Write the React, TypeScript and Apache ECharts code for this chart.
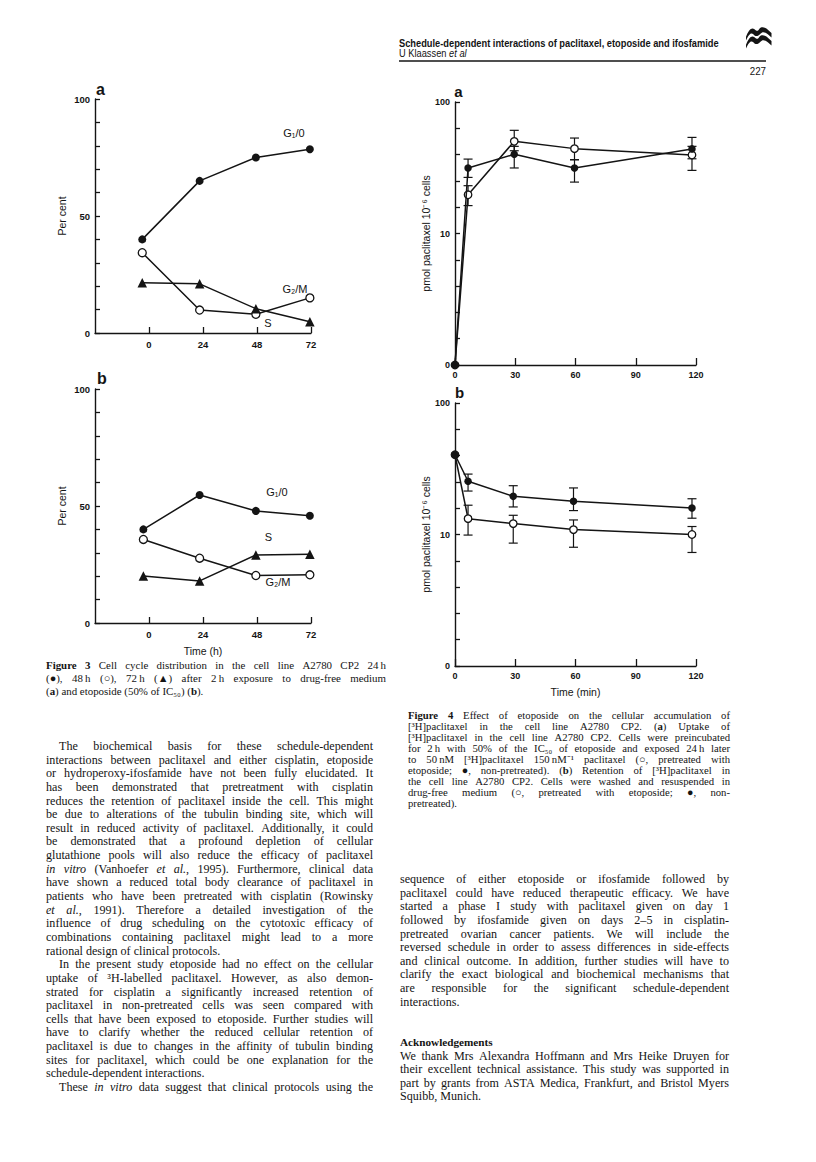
import React, { useEffect, useRef } from 'react';
import * as echarts from 'echarts';

// ---------------- DATA ----------------
// Figure 3 – cell cycle distribution (per cent)
const fig3Ticks = [0, 24, 48, 72];
const fig3aTimes = [-3, 22.5, 47.5, 71.5];
const fig3aG1 = [40, 65, 75, 78.5];
const fig3aS = [34.3, 9.8, 8, 15];
const fig3aG2M = [21.5, 21, 10.4, 4.8];
const fig3bTimes = [-2.5, 22.5, 47.5, 71.5];
const fig3bG1 = [40, 54.7, 47.9, 45.8];
const fig3bS = [35.7, 27.7, 20.3, 20.6];
const fig3bG2M = [20.1, 18, 29.1, 29.4];

// Figure 4 – pmol paclitaxel per 10^6 cells (log axis, bottom labelled "0")
const fig4Ticks = [0, 30, 60, 90, 120];
const fig4YLabels = [1, 10, 100];
const fig4aTimes = [0, 6.5, 29.5, 59.5, 118];
const fig4aNonPre = [0, 31.5, 40, 31.5, 44];
const fig4aNonPreLow = [null, 26.7, 31.5, 24.6, 37];
const fig4aNonPreHigh = [null, 36.8, 46, 36.4, 53.8];
const fig4aPre = [0, 19.7, 50.2, 44.2, 39.5];
const fig4aPreLow = [null, 16.3, 42.6, 36.4, 30.2];
const fig4aPreHigh = [null, 23.1, 60.9, 53.2, 46];

const fig4bTimes = [0, 6.5, 29, 59, 118];
const fig4bNonPre = [40.4, 25.4, 19.5, 17.9, 15.9];
const fig4bNonPreLow = [null, 21.4, 16.2, 15.2, 13.3];
const fig4bNonPreHigh = [null, 28.8, 23.5, 22.6, 18.7];
const fig4bPre = [40.4, 13.2, 12.1, 10.9, 10.0];
const fig4bPreLow = [null, 9.9, 8.6, 8.0, 7.3];
const fig4bPreHigh = [null, 16.7, 14, 12.9, 11.5];

// ---------------- TEXT ----------------
const headerTitle = 'Schedule-dependent interactions of paclitaxel, etoposide and ifosfamide';
const headerAuthor = 'U Klaassen';
const headerAuthorEtAl = 'et al';
const pageNumber = '227';

const fig3Caption = [
  '{b:Figure} {b:3}  Cell cycle distribution in the cell line A2780 CP2 24\u2009h',
  '(\u25CF), 48\u2009h (\u25CB), 72\u2009h (\u25B2) after 2\u2009h exposure to drug-free medium',
  '({b:a}) and etoposide (50% of IC\u2085\u2080) ({b:b}).|',
];

const fig4Caption = [
  '{b:Figure} {b:4}  Effect of etoposide on the cellular accumulation of',
  '[\u00B3H]paclitaxel in the cell line A2780 CP2. ({b:a}) Uptake of',
  '[\u00B3H]paclitaxel in the cell line A2780 CP2. Cells were preincubated',
  'for 2\u2009h with 50% of the IC\u2085\u2080 of etoposide and exposed 24\u2009h later',
  'to 50\u2009nM [\u00B3H]paclitaxel 150\u2009nM\u207B\u00B9 paclitaxel (\u25CB, pretreated with',
  'etoposide; \u25CF, non-pretreated). ({b:b}) Retention of [\u00B3H]paclitaxel in',
  'the cell line A2780 CP2. Cells were washed and resuspended in',
  'drug-free medium (\u25CB, pretreated with etoposide; \u25CF, non-',
  'pretreated).|',
];

const leftBody = [
  '>The biochemical basis for these schedule-dependent',
  'interactions between paclitaxel and either cisplatin, etoposide',
  'or hydroperoxy-ifosfamide have not been fully elucidated. It',
  'has been demonstrated that pretreatment with cisplatin',
  'reduces the retention of paclitaxel inside the cell. This might',
  'be due to alterations of the tubulin binding site, which will',
  'result in reduced activity of paclitaxel. Additionally, it could',
  'be demonstrated that a profound depletion of cellular',
  'glutathione pools will also reduce the efficacy of paclitaxel',
  '{i:in} {i:vitro} (Vanhoefer {i:et} {i:al.}, 1995). Furthermore, clinical data',
  'have shown a reduced total body clearance of paclitaxel in',
  'patients who have been pretreated with cisplatin (Rowinsky',
  '{i:et} {i:al.}, 1991). Therefore a detailed investigation of the',
  'influence of drug scheduling on the cytotoxic efficacy of',
  'combinations containing paclitaxel might lead to a more',
  'rational design of clinical protocols.|',
  '>In the present study etoposide had no effect on the cellular',
  'uptake of \u00B3H-labelled paclitaxel. However, as also demon-',
  'strated for cisplatin a significantly increased retention of',
  'paclitaxel in non-pretreated cells was seen compared with',
  'cells that have been exposed to etoposide. Further studies will',
  'have to clarify whether the reduced cellular retention of',
  'paclitaxel is due to changes in the affinity of tubulin binding',
  'sites for paclitaxel, which could be one explanation for the',
  'schedule-dependent interactions.|',
  '>These {i:in} {i:vitro} data suggest that clinical protocols using the',
];

const rightBody = [
  'sequence of either etoposide or ifosfamide followed by',
  'paclitaxel could have reduced therapeutic efficacy. We have',
  'started a phase I study with paclitaxel given on day 1',
  'followed by ifosfamide given on days 2\u20135 in cisplatin-',
  'pretreated ovarian cancer patients. We will include the',
  'reversed schedule in order to assess differences in side-effects',
  'and clinical outcome. In addition, further studies will have to',
  'clarify the exact biological and biochemical mechanisms that',
  'are responsible for the significant schedule-dependent',
  'interactions.|',
];

const ackTitle = 'Acknowledgements';
const ackBody = [
  'We thank Mrs Alexandra Hoffmann and Mrs Heike Druyen for',
  'their excellent technical assistance. This study was supported in',
  'part by grants from ASTA Medica, Frankfurt, and Bristol Myers',
  'Squibb, Munich.|',
];

// ---------------- HELPERS ----------------
const INK = '#141414';
const SANS = 'Liberation Sans';
const SERIF = 'Liberation Serif';
const LOG_FLOOR = 1; // the log axis bottom, labelled "0"
const LOG_TOP = 100;

const logoPath =
  'M0,13 C3,5 6,0 10,3 C13,6 14,6 16,2 C18,-1 23,0 26,4 L30,8 L30,14 L26,10 C22,6 19,6 17,9 C14,13 11,13 9,10 C6,7 4,8 0,18 Z';
echarts.graphic.registerShape('logo', echarts.graphic.extendPath(logoPath, {}) as any);

let measureCtx: CanvasRenderingContext2D | null = null;
function measure(text: string, size: number, family: string, bold: boolean, italic: boolean) {
  if (!measureCtx) measureCtx = document.createElement('canvas').getContext('2d');
  const ctx = measureCtx!;
  ctx.font = `${italic ? 'italic ' : ''}${bold ? 'bold ' : ''}${size}px "${family}"`;
  return ctx.measureText(text).width;
}

type Seg = { text: string; bold: boolean; italic: boolean };
function parseWord(w: string): Seg[] {
  const segs: Seg[] = [];
  const re = /\{([bi]):([^}]*)\}/g;
  let last = 0;
  let m: RegExpExecArray | null;
  while ((m = re.exec(w))) {
    if (m.index > last) segs.push({ text: w.slice(last, m.index), bold: false, italic: false });
    segs.push({ text: m[2], bold: m[1] === 'b', italic: m[1] === 'i' });
    last = m.index + m[0].length;
  }
  if (last < w.length) segs.push({ text: w.slice(last), bold: false, italic: false });
  return segs;
}

function textEl(x: number, y: number, text: string, size: number, family: string, bold = false, italic = false, extra: any = {}) {
  return {
    type: 'text',
    x,
    y,
    silent: true,
    ...extra,
    style: {
      text,
      fontSize: size,
      fontFamily: family,
      fontWeight: bold ? 'bold' : 'normal',
      fontStyle: italic ? 'italic' : 'normal',
      fill: INK,
      verticalAlign: 'middle',
      textVerticalAlign: 'middle',
      align: extra.align || 'left',
      textAlign: extra.align || 'left',
    },
  };
}

function layoutBlock(lines: string[], o: { x: number; y: number; width: number; lh: number; size: number; family: string; indent: number }) {
  const els: any[] = [];
  lines.forEach((raw, i) => {
    let s = raw;
    const indent = s.startsWith('>');
    if (indent) s = s.slice(1);
    const last = s.endsWith('|');
    if (last) s = s.slice(0, -1);
    const words = s.split(' ').filter((w) => w.length > 0).map(parseWord);
    const widths = words.map((segs) => segs.reduce((a, sg) => a + measure(sg.text, o.size, o.family, sg.bold, sg.italic), 0));
    const sum = widths.reduce((a, b) => a + b, 0);
    const space = measure(' ', o.size, o.family, false, false);
    const x0 = o.x + (indent ? o.indent : 0);
    const avail = o.width - (indent ? o.indent : 0);
    let gap = space;
    if (!last && words.length > 1) gap = Math.max(1.2, (avail - sum) / (words.length - 1));
    const y = o.y + i * o.lh;
    let x = x0;
    words.forEach((segs, wi) => {
      let sx = x;
      segs.forEach((sg) => {
        els.push(textEl(sx, y, sg.text, o.size, o.family, sg.bold, sg.italic));
        sx += measure(sg.text, o.size, o.family, sg.bold, sg.italic);
      });
      x += widths[wi] + gap;
    });
  });
  return els;
}

function zip(xs: number[], ys: number[]) {
  return xs.map((x, i) => [x, ys[i]]);
}
function logPoints(xs: number[], ys: number[]) {
  return xs.map((x, i) => [x, ys[i] <= 0 ? LOG_FLOOR : ys[i]]);
}
function errRows(xs: number[], lo: (number | null)[], hi: (number | null)[]) {
  const rows: number[][] = [];
  xs.forEach((x, i) => {
    if (lo[i] != null && hi[i] != null) rows.push([x, lo[i] as number, hi[i] as number]);
  });
  return rows;
}

const tickLabelStyle = { color: INK, fontFamily: SANS, fontWeight: 'bold' as const, fontSize: 9.5 };

function fig3XAxis(gridIndex: number, name?: string) {
  return {
    type: 'value', gridIndex, min: -24, max: 72, interval: 24,
    axisLine: { show: true, onZero: false, lineStyle: { color: INK, width: 1.4 } },
    axisTick: { show: true, inside: true, length: 6, customValues: fig3Ticks, lineStyle: { color: INK, width: 1.3 } },
    axisLabel: { ...tickLabelStyle, customValues: fig3Ticks, margin: 6, formatter: (v: number) => (v < 0 ? '' : String(v)) },
    splitLine: { show: false },
    name: name || '', nameLocation: 'middle', nameGap: 22,
    nameTextStyle: { color: INK, fontFamily: SANS, fontSize: 10.5 },
  };
}
function fig3YAxis(gridIndex: number) {
  return {
    type: 'value', gridIndex, min: 0, max: 100, interval: 50,
    axisLine: { show: true, onZero: false, lineStyle: { color: INK, width: 1.4 } },
    axisTick: { show: true, inside: true, length: 5, lineStyle: { color: INK, width: 1.3 } },
    minorTick: { show: true, splitNumber: 5, length: 5, lineStyle: { color: INK, width: 1.3 } },
    axisLabel: { ...tickLabelStyle, margin: 5 },
    splitLine: { show: false }, minorSplitLine: { show: false },
    name: 'Per cent', nameLocation: 'middle', nameGap: 28,
    nameTextStyle: { color: INK, fontFamily: SANS, fontSize: 10.5 },
  };
}
function fig4XAxis(gridIndex: number, name?: string) {
  return {
    type: 'value', gridIndex, min: 0, max: 120, interval: 30,
    axisLine: { show: true, onZero: false, lineStyle: { color: INK, width: 1.4 } },
    axisTick: { show: true, inside: true, length: 7, customValues: fig4Ticks, lineStyle: { color: INK, width: 1.3 } },
    axisLabel: { ...tickLabelStyle, fontSize: 9, margin: 5, customValues: fig4Ticks },
    splitLine: { show: false },
    name: name || '', nameLocation: 'middle', nameGap: 20,
    nameTextStyle: { color: INK, fontFamily: SANS, fontSize: 10.5 },
  };
}
function fig4YAxis(gridIndex: number) {
  return {
    type: 'log', logBase: 10, gridIndex, min: LOG_FLOOR, max: LOG_TOP,
    axisLine: { show: true, onZero: false, lineStyle: { color: INK, width: 1.4 } },
    axisTick: { show: false },
    minorTick: { show: false },
    axisLabel: {
      ...tickLabelStyle, fontSize: 9, margin: 5, customValues: fig4YLabels,
      formatter: (v: number) => (v <= LOG_FLOOR ? '0' : String(Math.round(v))),
    },
    splitLine: { show: false }, minorSplitLine: { show: false },
    name: 'pmol paclitaxel 10\u207B\u2076 cells', nameLocation: 'middle', nameGap: 24,
    nameTextStyle: { color: INK, fontFamily: SANS, fontSize: 10.5 },
  };
}
// companion axis in decades (log10 of the same range) that carries the tick marks,
// five equal steps per decade as in the original
function fig4DecadeAxis(gridIndex: number) {
  return {
    type: 'value', gridIndex, position: 'left', offset: 0,
    min: Math.log10(LOG_FLOOR), max: Math.log10(LOG_TOP), interval: 1,
    axisLine: { show: false },
    axisTick: { show: true, inside: true, length: 5, lineStyle: { color: INK, width: 1.3 } },
    minorTick: { show: true, splitNumber: 5, length: 5, lineStyle: { color: INK, width: 1.3 } },
    axisLabel: { show: false },
    splitLine: { show: false }, minorSplitLine: { show: false },
  };
}

const lineStyle = { color: INK, width: 1.5 };
function markerSeries(idx: number, data: number[][], kind: 'filled' | 'open' | 'triangle', size = 8, z = 3) {
  const item =
    kind === 'open'
      ? { color: '#ffffff', borderColor: INK, borderWidth: 1.3 }
      : { color: INK, borderColor: INK, borderWidth: 0 };
  return {
    type: 'line', xAxisIndex: idx, yAxisIndex: idx, data,
    symbol: kind === 'triangle' ? 'triangle' : 'circle',
    symbolSize: kind === 'triangle' ? size + 1.5 : size,
    showAllSymbol: true, clip: false, z,
    lineStyle, itemStyle: item,
    emphasis: { disabled: true },
  };
}
function errorSeries(idx: number, rows: number[][]) {
  return {
    type: 'custom', xAxisIndex: idx, yAxisIndex: idx, z: 2, clip: false,
    data: rows,
    encode: { x: 0, y: [1, 2] },
    renderItem: (_p: any, api: any) => {
      const x = api.value(0);
      const p1 = api.coord([x, api.value(1)]);
      const p2 = api.coord([x, api.value(2)]);
      const w = 4.5;
      const st = { stroke: INK, lineWidth: 1.2 };
      return {
        type: 'group',
        children: [
          { type: 'line', shape: { x1: p1[0], y1: p1[1], x2: p2[0], y2: p2[1] }, style: st },
          { type: 'line', shape: { x1: p1[0] - w, y1: p1[1], x2: p1[0] + w, y2: p1[1] }, style: st },
          { type: 'line', shape: { x1: p2[0] - w, y1: p2[1], x2: p2[0] + w, y2: p2[1] }, style: st },
        ],
      };
    },
  };
}

function buildGraphics() {
  const els: any[] = [];
  // header
  const titleSize = 10;
  const titleNat = measure(headerTitle, titleSize, SANS, true, false);
  const sx = 320 / titleNat;
  els.push(textEl(399, 43, headerTitle, titleSize, SANS, true, false, { scaleX: sx }));
  const authW = measure(headerAuthor + ' ', 10, SANS, false, false) * sx;
  els.push(textEl(399, 53.5, headerAuthor, 10, SANS, false, false, { scaleX: sx }));
  els.push(textEl(399 + authW, 53.5, headerAuthorEtAl, 10, SANS, false, true, { scaleX: sx }));
  els.push({ type: 'line', silent: true, shape: { x1: 399, y1: 61, x2: 766, y2: 61 }, style: { stroke: INK, lineWidth: 1.3 } });
  els.push(textEl(766, 71, pageNumber, 11.5, SANS, false, false, { align: 'right', scaleX: 0.85, originX: 0 }));
  els.push({ type: 'logo', x: 746, y: 27, scaleX: 0.85, scaleY: 0.75, silent: true, style: { fill: INK } });
  els.push({ type: 'logo', x: 746, y: 35, scaleX: 0.85, scaleY: 0.75, silent: true, style: { fill: INK } });

  // panel letters
  els.push(textEl(100.5, 89, 'a', 16, SANS, true, false, { align: 'center' }));
  els.push(textEl(102, 378.5, 'b', 16, SANS, true, false, { align: 'center' }));
  els.push(textEl(458.5, 91, 'a', 15, SANS, true, false, { align: 'center' }));
  els.push(textEl(459.5, 392, 'b', 15, SANS, true, false, { align: 'center' }));

  // curve annotations
  els.push(textEl(294, 133, 'G\u2081/0', 11, SANS, false, false, { align: 'center' }));
  els.push(textEl(295, 289, 'G\u2082/M', 11, SANS, false, false, { align: 'center' }));
  els.push(textEl(268, 323, 'S', 11, SANS, false, false, { align: 'center' }));
  els.push(textEl(277, 492, 'G\u2081/0', 11, SANS, false, false, { align: 'center' }));
  els.push(textEl(268.5, 537, 'S', 11, SANS, false, false, { align: 'center' }));
  els.push(textEl(278, 582, 'G\u2082/M', 11, SANS, false, false, { align: 'center' }));

  // captions and body text
  els.push(...layoutBlock(fig3Caption, { x: 46, y: 665, width: 340, lh: 12.8, size: 10.9, family: SERIF, indent: 0 }));
  els.push(...layoutBlock(fig4Caption, { x: 408, y: 715, width: 322, lh: 10.95, size: 10.7, family: SERIF, indent: 0 }));
  els.push(...layoutBlock(leftBody, { x: 46, y: 746, width: 327, lh: 13.64, size: 12.1, family: SERIF, indent: 13 }));
  els.push(...layoutBlock(rightBody, { x: 400, y: 879, width: 329, lh: 13.64, size: 12.1, family: SERIF, indent: 13 }));
  els.push(textEl(400, 1042, ackTitle, 11.2, SERIF, true, false));
  els.push(...layoutBlock(ackBody, { x: 400, y: 1055.5, width: 329, lh: 13.64, size: 12.1, family: SERIF, indent: 13 }));
  return els;
}

function buildOption() {
  return {
    animation: false,
    backgroundColor: '#ffffff',
    grid: [
      { left: 95, top: 99, width: 216, height: 234 },
      { left: 95, top: 389, width: 216, height: 234 },
      { left: 455, top: 102, width: 241, height: 263 },
      { left: 455, top: 403, width: 241, height: 263 },
    ],
    xAxis: [fig3XAxis(0), fig3XAxis(1, 'Time (h)'), fig4XAxis(2), fig4XAxis(3, 'Time (min)')],
    yAxis: [fig3YAxis(0), fig3YAxis(1), fig4YAxis(2), fig4YAxis(3), fig4DecadeAxis(2), fig4DecadeAxis(3)],
    series: [
      markerSeries(0, zip(fig3aTimes, fig3aS), 'open'),
      markerSeries(0, zip(fig3aTimes, fig3aG2M), 'triangle'),
      markerSeries(0, zip(fig3aTimes, fig3aG1), 'filled'),
      markerSeries(1, zip(fig3bTimes, fig3bS), 'open'),
      markerSeries(1, zip(fig3bTimes, fig3bG2M), 'triangle'),
      markerSeries(1, zip(fig3bTimes, fig3bG1), 'filled'),
      errorSeries(2, errRows(fig4aTimes, fig4aPreLow, fig4aPreHigh)),
      errorSeries(2, errRows(fig4aTimes, fig4aNonPreLow, fig4aNonPreHigh)),
      markerSeries(2, logPoints(fig4aTimes, fig4aPre), 'open', 7.5, 3),
      markerSeries(2, logPoints(fig4aTimes, fig4aNonPre), 'filled', 7.5, 4),
      errorSeries(3, errRows(fig4bTimes, fig4bPreLow, fig4bPreHigh)),
      errorSeries(3, errRows(fig4bTimes, fig4bNonPreLow, fig4bNonPreHigh)),
      markerSeries(3, logPoints(fig4bTimes, fig4bPre), 'open', 7.5, 3),
      markerSeries(3, logPoints(fig4bTimes, fig4bNonPre), 'filled', 7.5, 4),
    ],
    graphic: { elements: buildGraphics() },
  };
}

export default function App() {
  const ref = useRef<HTMLDivElement>(null);
  useEffect(() => {
    if (!ref.current) return;
    const chart = echarts.init(ref.current, null, { renderer: 'svg', width: 816, height: 1162 });
    chart.setOption(buildOption() as any);
    return () => chart.dispose();
  }, []);
  return (
    <div
      ref={ref}
      style={{ position: 'absolute', left: 0, top: 0, width: 816, height: 1162, background: '#ffffff' }}
    />
  );
}
